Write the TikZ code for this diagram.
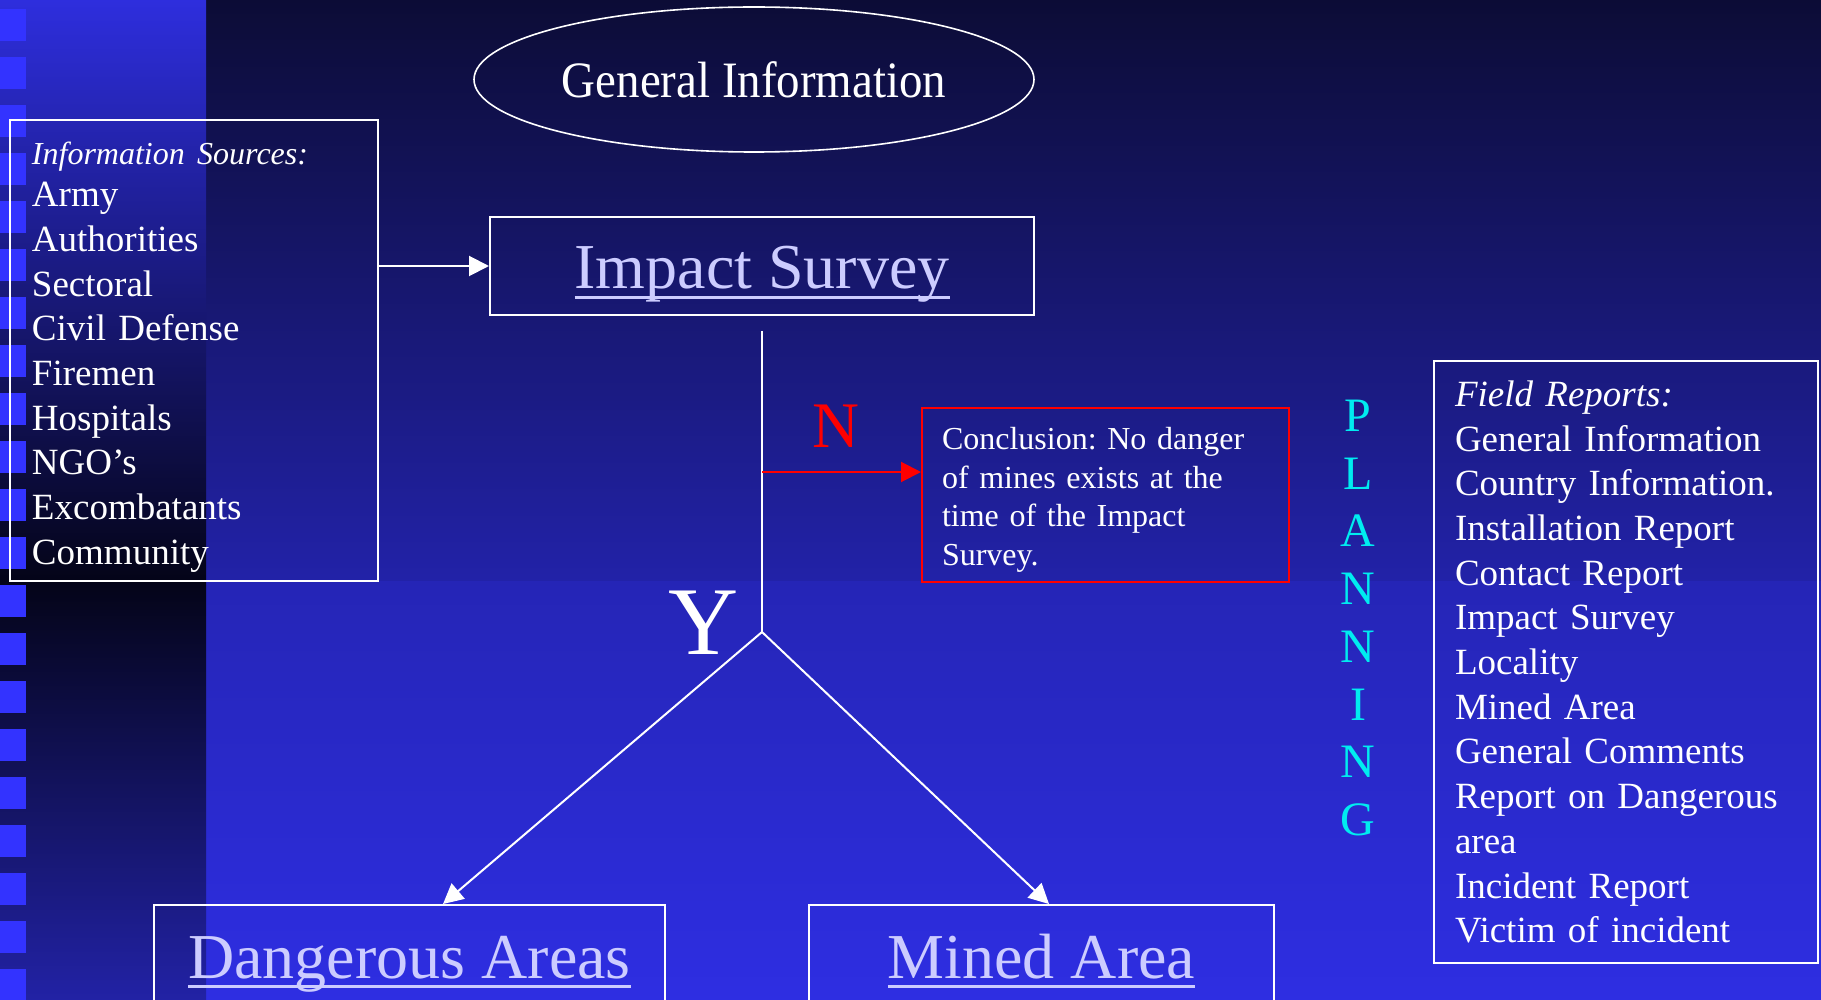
\documentclass[tikz,border=0pt]{standalone}
\usepackage{fontspec}
\setmainfont{Liberation Serif}
\newfontfamily\condserif[FakeStretch=0.92]{Liberation Serif}
\usetikzlibrary{arrows.meta,positioning,shapes.geometric}
\frenchspacing

\definecolor{bgtop}{RGB}{12,12,54}
\definecolor{bgmid}{RGB}{34,34,168}
\definecolor{bglow}{RGB}{37,37,182}
\definecolor{bgbot}{RGB}{46,46,226}
\definecolor{striptop}{RGB}{46,46,221}
\definecolor{stripdark}{RGB}{4,4,24}
\definecolor{stripbot}{RGB}{34,34,165}
\definecolor{squareblue}{RGB}{51,51,255}
\definecolor{lavender}{RGB}{204,204,255}
\definecolor{planningcyan}{RGB}{0,236,240}

\newcommand{\ulined}[1]{\setbox0\hbox{#1}\rlap{\rule[-0.155em]{\wd0}{0.047em}}\box0}

\begin{document}
\begin{tikzpicture}[x=0.5pt,y=-0.5pt,
  connector/.style={white, line width=1pt},
  arrowline/.style={connector, -{Triangle[length=10pt,width=10pt]}},
  listbox/.style={draw=white, line width=1pt, text=white, align=left, inner ysep=0pt, font=\fontsize{18.5pt}{22.35pt}\selectfont},
  titlebox/.style={draw=white, line width=1pt, text=lavender, inner ysep=0pt, font=\fontsize{32pt}{38pt}\selectfont}]
% Background
\useasboundingbox (0,0) rectangle (1821,1000);
\clip (0,0) rectangle (1821,1000);
\shade[top color=bgtop, bottom color=bgmid] (206,0) rectangle (1821,581);
\shade[top color=bglow, bottom color=bgbot] (206,581) rectangle (1821,1000);
\shade[top color=striptop, bottom color=stripdark] (0,0) rectangle (206,581);
\shade[top color=stripdark, bottom color=stripbot] (0,581) rectangle (206,1000);
\foreach \k in {0,...,20} {
  \fill[squareblue] (0,{9+48*\k}) rectangle (26,{41+48*\k});
}
% Title
\node[ellipse, draw=white, line width=0.8pt, minimum width=280pt, minimum height=72.5pt, inner sep=0pt, text=white, font=\condserif\fontsize{25.5pt}{30pt}\selectfont] (geninfo) at (754,79.5) {General Information};
% Information sources
\node[listbox, minimum width=184pt, minimum height=230.5pt, text width=162pt, inner xsep=11pt] (sources) at (194,350.5)
  {\rule{0pt}{18pt}{\itshape\fontsize{16pt}{19pt}\selectfont Information Sources:}\\[-1.35pt]
   Army\\Authorities\\Sectoral\\Civil Defense\\Firemen\\Hospitals\\NGO’s\\Excombatants\\Community};
% Survey and results
\node[titlebox, minimum width=272pt, text height=36pt, text depth=13pt, anchor=north] (impact) at (762,216) {\ulined{Impact Survey}};
\node[draw=red, line width=1pt, text=white, align=left, minimum width=183.5pt, minimum height=87pt, text width=163.5pt, inner xsep=10pt, inner ysep=0pt, font=\fontsize{16pt}{19.35pt}\selectfont] (conclusion) at (1105.5,495)
  {\rule{0pt}{16pt}Conclusion: No danger\\of mines exists at the\\time of the Impact\\Survey.};
\node[text=red, font=\fontsize{32.5pt}{38pt}\selectfont] (nolabel) at (836,426.5) {N};
\node[text=white, font=\fontsize{48.5pt}{56pt}\selectfont] (yeslabel) at (703.5,623) {Y};
\node[titlebox, minimum width=255.5pt, text height=36.5pt, text depth=40pt, anchor=north] (dangerous) at (409.5,904) {\ulined{Dangerous Areas}};
\node[titlebox, minimum width=232.5pt, text height=36.5pt, text depth=40pt, anchor=north] (mined) at (1041.5,904) {\ulined{Mined Area}};
% Planning
\node[text=planningcyan, align=center, font=\fontsize{24pt}{28.85pt}\selectfont] (planning) at (1358,618) {P\\L\\A\\N\\N\\I\\N\\G};
\node[listbox, minimum width=192pt, minimum height=301pt, text width=171pt, inner xsep=10.5pt] (fieldreports) at (1626,662)
  {{\itshape Field Reports:}\\General Information\\Country Information.\\Installation Report\\Contact Report\\Impact Survey\\Locality\\Mined Area\\General Comments\\Report on Dangerous\\area\\Incident Report\\Victim of incident};
% Connectors
\coordinate (fork) at (762,632);
\coordinate (nsplit) at (762,472);
\draw[arrowline] (impact.west -| sources.east) -- (impact.west);
\draw[connector] ([yshift=-7.5pt]impact.south) -- (fork);
\draw[red, line width=1pt, -{Triangle[length=10pt,width=10pt]}] (nsplit) -- (nsplit -| conclusion.west);
\draw[arrowline] (fork) -- ([xshift=16.75pt]dangerous.north);
\draw[arrowline] (fork) -- ([xshift=3.75pt]mined.north);
\end{tikzpicture}
\end{document}
